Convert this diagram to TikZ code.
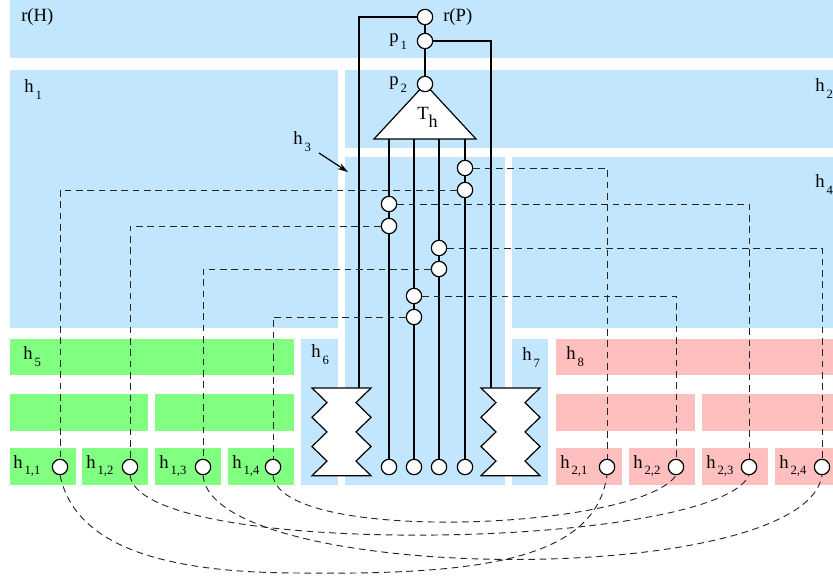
\documentclass[tikz,border=0pt]{standalone}
\usepackage{fontspec}
\setmainfont{Liberation Serif}
\usetikzlibrary{arrows.meta}
\definecolor{regblue}{RGB}{194,230,253}
\definecolor{reggreen}{RGB}{128,255,128}
\definecolor{regpink}{RGB}{255,191,191}
% label with a lowered index, e.g. h_{1,1}
\newcommand{\lab}[2]{#1\hspace{1.5pt}\raisebox{-5pt}{\fontsize{9.5}{11}\selectfont #2}}
\tikzset{
  port/.style={circle, draw, fill=white, line width=0.9pt, minimum size=11.5pt, inner sep=0pt},
  wire/.style={line width=0.9pt},
  dlink/.style={line width=0.7pt, draw=black!85, dash pattern=on 5pt off 3.5pt},
  txt/.style={anchor=base west, inner sep=0pt, font=\fontsize{14}{16}\selectfont},
  zigblock/.pic={
    \draw[wire, fill=white] (0,0) -- (59,0) -- (44,14.6) -- (59,29.3) -- (44,43.9)
      -- (59,58.5) -- (44,73.1) -- (59,87.7) -- (0,87.7) -- (15,73.1) -- (0,58.5)
      -- (15,43.9) -- (0,29.3) -- (15,14.6) -- cycle;
  }
}
\begin{document}
\begin{tikzpicture}[x=0.75pt, y=-0.75pt]
\useasboundingbox (0,0) rectangle (833,581);

% ---- regions ----
\fill[regblue] (10,0) rectangle (833,58);     % r(H)
\fill[regblue] (10,70) rectangle (338,328);   % h1
\fill[regblue] (345,70) rectangle (833,148);  % h2
\fill[regblue] (345,157) rectangle (505,485); % h3
\fill[regblue] (512,157) rectangle (833,328); % h4
\fill[reggreen] (10,339) rectangle (294,375); % h5
\fill[regblue] (301,339) rectangle (338,485); % h6
\fill[regblue] (512,339) rectangle (548,485); % h7
\fill[regpink] (556,339) rectangle (833,375); % h8
% green subdivisions
\fill[reggreen] (10,394) rectangle (148,431);
\fill[reggreen] (155,394) rectangle (294,431);
\fill[reggreen] (10,448) rectangle (76,485);
\fill[reggreen] (82,448) rectangle (148,485);
\fill[reggreen] (155,448) rectangle (221,485);
\fill[reggreen] (228,448) rectangle (294,485);
% pink subdivisions
\fill[regpink] (556,394) rectangle (695,431);
\fill[regpink] (702,394) rectangle (833,431);
\fill[regpink] (556,448) rectangle (622,485);
\fill[regpink] (629,448) rectangle (695,485);
\fill[regpink] (702,448) rectangle (768,485);
\fill[regpink] (775,448) rectangle (833,485);

% ---- region labels ----
\node[txt] (lrH) at (21,22) {r(H)};
\node[txt] (lh1) at (24,93) {\lab{h}{1}};
\node[txt] (lh2) at (815,92) {\lab{h}{2}};
\node[txt] (lh3) at (293,145) {\lab{h}{3}};
\node[txt] (lh4) at (815,188) {\lab{h}{4}};
\node[txt] (lh5) at (23,360) {\lab{h}{5}};
\node[txt] (lh6) at (311,358) {\lab{h}{6}};
\node[txt] (lh7) at (522,361) {\lab{h}{7}};
\node[txt] (lh8) at (566,360) {\lab{h}{8}};
\node[txt] (lh11) at (13,468) {\lab{h}{1,1}};
\node[txt] (lh12) at (86,468) {\lab{h}{1,2}};
\node[txt] (lh13) at (159,468) {\lab{h}{1,3}};
\node[txt] (lh14) at (232,468) {\lab{h}{1,4}};
\node[txt] (lh21) at (560,468) {\lab{h}{2,1}};
\node[txt] (lh22) at (633,468) {\lab{h}{2,2}};
\node[txt] (lh23) at (706,468) {\lab{h}{2,3}};
\node[txt] (lh24) at (779,468) {\lab{h}{2,4}};

% pointer to h3
\coordinate (h3from) at (319,153);
\coordinate (h3to) at (348,172);
\draw[wire, -{Stealth[length=8pt, width=5pt]}] (h3from) -- (h3to);

% ---- tree T_h ----
\coordinate (apex) at (425,84);
\coordinate (tl) at (374,139);
\coordinate (tr) at (476,139);
\draw[wire, fill=white] (tl) -- (apex) -- (tr) -- cycle;
\node[txt] (lTh) at (417,120) {T\raisebox{-6pt}{\fontsize{13.5}{15}\selectfont h}};
\coordinate (t1) at (389,139);
\coordinate (t2) at (414,139);
\coordinate (t3) at (439,139);
\coordinate (t4) at (465,139);

% zigzag blocks
\pic at (312,388) {zigblock};
\pic at (481,388) {zigblock};
\coordinate (zl) at (359,388);
\coordinate (zr) at (491,388);

% ---- ports ----
\node[port] (rP) at (425,17) {};
\node[port] (p1) at (425,41) {};
\node[port] (p2) at (425,84) {};
\node[txt] (lrP) at (443,22) {r(P)};
\node[txt] (lp1) at (389,43) {\lab{p}{1}};
\node[txt] (lp2) at (389,86) {\lab{p}{2}};

\node[port] (a1) at (465,168) {};
\node[port] (a2) at (465,190) {};
\node[port] (b1) at (389,204) {};
\node[port] (b2) at (389,226) {};
\node[port] (c1) at (439,248) {};
\node[port] (c2) at (439,269) {};
\node[port] (d1) at (414,296) {};
\node[port] (d2) at (414,317) {};

\node[port] (e1) at (389,467) {};
\node[port] (e2) at (414,467) {};
\node[port] (e3) at (439,467) {};
\node[port] (e4) at (465,467) {};

\node[port] (c11) at (60,467) {};
\node[port] (c12) at (130,467) {};
\node[port] (c13) at (203,467) {};
\node[port] (c14) at (273,467) {};
\node[port] (c21) at (607,467) {};
\node[port] (c22) at (676,467) {};
\node[port] (c23) at (749,467) {};
\node[port] (c24) at (822,467) {};

% ---- solid wires ----
\draw[wire] (rP) -- (p1);
\draw[wire] (p1) -- (p2);
\draw[wire] (rP.west) -| (zl);
\draw[wire] (p1.east) -| (zr);
\draw[wire] (t1) -- (b1) -- (b2) -- (e1);
\draw[wire] (t2) -- (d1) -- (d2) -- (e2);
\draw[wire] (t3) -- (c1) -- (c2) -- (e3);
\draw[wire] (t4) -- (a1) -- (a2) -- (e4);

% ---- dashed links to the leaves ----
\draw[dlink] (a1.east) -| (c21.north);
\draw[dlink] (a2.west) -| (c11.north);
\draw[dlink] (b1.east) -| (c23.north);
\draw[dlink] (b2.west) -| (c12.north);
\draw[dlink] (c1.east) -| (c24.north);
\draw[dlink] (c2.west) -| (c13.north);
\draw[dlink] (d1.east) -| (c22.north);
\draw[dlink] (d2.west) -| (c14.north);

% ---- dashed arcs between the leaves ----
\draw[dlink] (c11.south) .. controls (75,545) and (160,573) .. (300,573)
  .. controls (480,575) and (595,560) .. (c21.south);
\draw[dlink] (c12.south) .. controls (140,560) and (715,550) .. (c23.south);
\draw[dlink] (c13.south) .. controls (212,585) and (805,590) .. (c24.south);
\draw[dlink] (c14.south) .. controls (280,545) and (640,530) .. (c22.south);
\end{tikzpicture}
\end{document}
